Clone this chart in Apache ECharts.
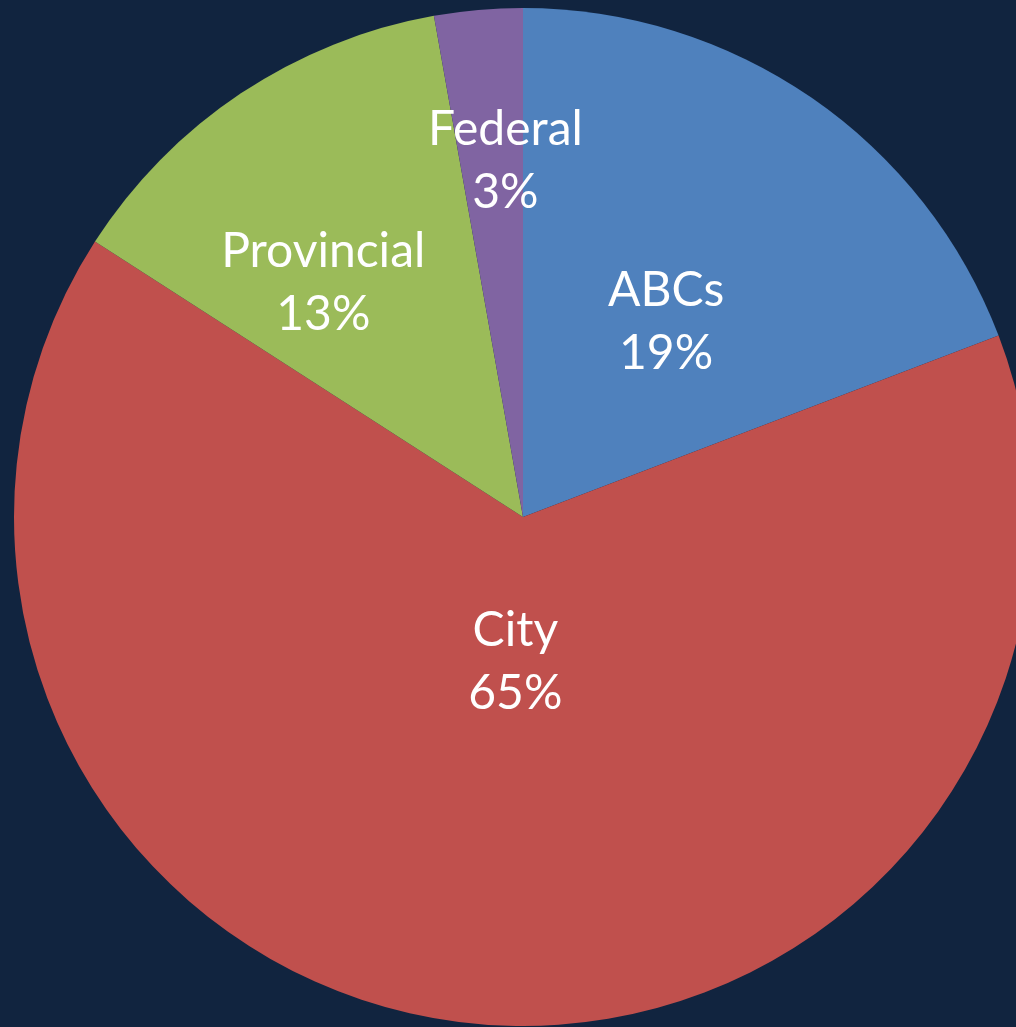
<!DOCTYPE html>
<html>
    <head>
        <title>Funding by source</title>
        <meta charset="UTF-8">
        <script src="https://cdn.jsdelivr.net/npm/echarts@6/dist/echarts.min.js"></script>
        <style>
            html, body {
                margin: 0;
                padding: 0;
                background-color: #11243f;
            }
            #main {
                width: 1016px;
                height: 1027px;
            }
        </style>
    </head>
    <body>
        <div id="main"></div>
        <script>
            // data, clockwise from 12 o'clock
            var categories = ['ABCs', 'City', 'Provincial', 'Federal'];
            var shares = [19.2, 64.9, 13.1, 2.8];
            var colors = ['#4f81bd', '#c0504d', '#9bbb59', '#8064a2'];
            // nudges for labels (Excel places them a bit differently than echarts)
            var labelShift = [[-3, 17], [19, -111], [-57, -20], [5, -99]];

            var chart = echarts.init(document.getElementById('main'));

            var pieData = categories.map(function (name, i) {
                return {name: name, value: shares[i], itemStyle: {color: colors[i]}};
            });

            var option = {
                backgroundColor: '#11243f',
                animation: false,
                series: [{
                        type: 'pie',
                        center: [523, 517],
                        radius: 509,
                        startAngle: 90,
                        clockwise: true,
                        data: pieData,
                        itemStyle: {borderWidth: 0},
                        label: {
                            show: true,
                            position: 'inside',
                            color: '#ffffff',
                            fontFamily: 'Lato',
                            fontSize: 48,
                            lineHeight: 63,
                            formatter: function (p) {
                                return p.name + '\n' + Math.round(p.percent) + '%';
                            }
                        },
                        labelLine: {show: false},
                        labelLayout: function (params) {
                            var s = labelShift[params.dataIndex];
                            return {dx: s[0], dy: s[1]};
                        },
                        emphasis: {disabled: true}
                    }]
            };
            chart.setOption(option);
        </script>
    </body>
</html>
